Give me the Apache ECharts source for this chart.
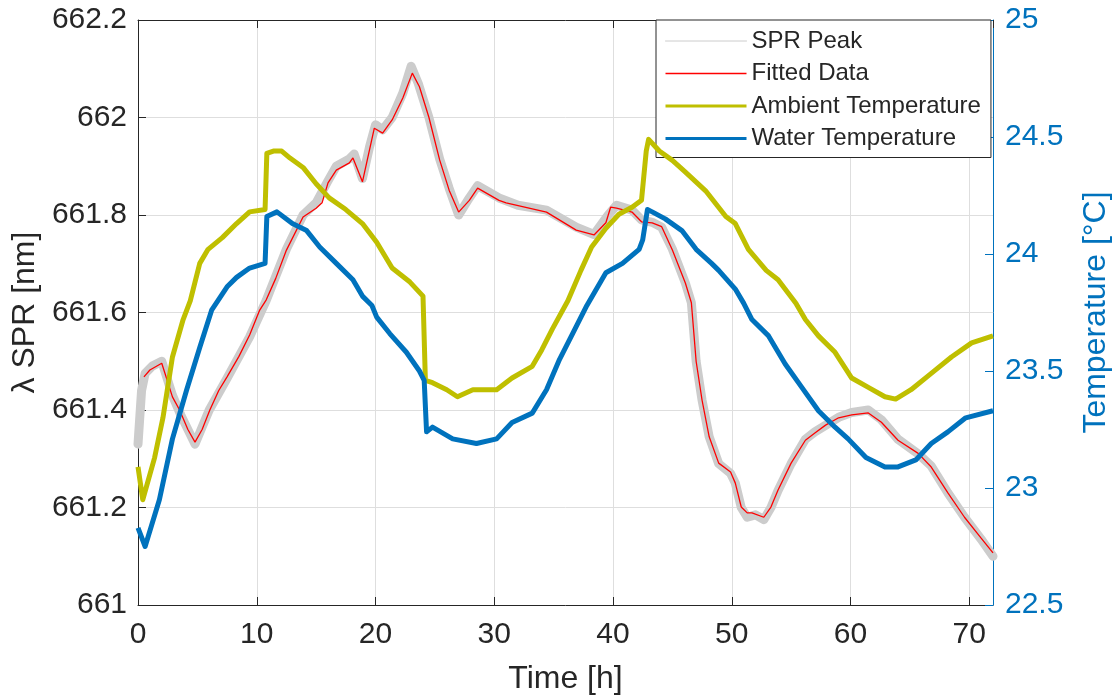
<!DOCTYPE html>
<html>
<head>
<meta charset="utf-8">
<script src="https://cdn.jsdelivr.net/npm/echarts@6/dist/echarts.min.js"></script>
<style>
  html, body { margin: 0; padding: 0; background: #ffffff; }
  #chart { width: 1120px; height: 700px; }
</style>
</head>
<body>
<div id="chart"></div>
<script>
// ---- Data ----
const seriesNames = ['SPR Peak', 'Fitted Data', 'Ambient Temperature', 'Water Temperature'];

// SPR Peak (raw, grey band) [nm]
const sprTime = [0, 0.3, 0.6, 1.2, 2.0, 2.9, 3.6, 4.8, 6.0, 7.5, 9.4, 10.8, 12.5, 13.9, 15.0, 16.0, 16.7, 17.8, 18.2, 18.9, 19.5, 20.0, 20.6, 21.4, 22.3, 23.0, 23.6, 24.5, 25.4, 26.2, 27.0, 27.9, 28.6, 30.4, 32.0, 34.4, 36.9, 38.4, 39.6, 40.3, 41.6, 42.4, 43.3, 44.1, 45.0, 46.1, 46.6, 47.0, 47.5, 48.1, 48.9, 49.9, 50.3, 50.8, 51.3, 52.0, 52.7, 53.3, 53.9, 55.0, 56.2, 57.0, 58.0, 59.0, 60.1, 61.5, 62.6, 64.0, 65.7, 66.8, 68.2, 69.6, 71.0, 72.0];
const sprPeak = [661.33, 661.44, 661.475, 661.49, 661.50, 661.43, 661.39, 661.33, 661.40, 661.465, 661.55, 661.625, 661.73, 661.80, 661.825, 661.87, 661.90, 661.915, 661.925, 661.875, 661.94, 661.985, 661.975, 662.00, 662.05, 662.105, 662.07, 662.00, 661.915, 661.855, 661.80, 661.835, 661.86, 661.835, 661.82, 661.81, 661.775, 661.76, 661.80, 661.82, 661.81, 661.79, 661.785, 661.775, 661.73, 661.66, 661.62, 661.50, 661.42, 661.345, 661.29, 661.27, 661.25, 661.20, 661.18, 661.185, 661.175, 661.20, 661.235, 661.29, 661.34, 661.355, 661.37, 661.385, 661.395, 661.40, 661.38, 661.34, 661.31, 661.285, 661.23, 661.18, 661.135, 661.10];

// Fitted Data [nm]
const fitTime = [0.5, 1.0, 2.0, 2.9, 3.5, 4.2, 4.8, 5.4, 6.05, 6.8, 7.5, 8.5, 9.4, 10.25, 10.8, 11.6, 12.5, 13.9, 15.0, 15.5, 16.0, 16.7, 17.8, 18.1, 18.9, 19.9, 20.6, 21.4, 22.3, 23.1, 23.7, 24.5, 25.4, 26.2, 27.0, 27.9, 28.6, 30.4, 31.0, 34.4, 36.9, 38.4, 39.4, 39.8, 40.3, 41.6, 42.4, 43.3, 44.1, 45.0, 46.1, 46.6, 47.0, 47.5, 48.1, 48.9, 49.9, 50.3, 50.8, 51.3, 51.7, 52.7, 53.3, 53.9, 55.0, 56.2, 57.0, 57.9, 59.0, 60.1, 61.5, 62.6, 64.0, 65.7, 66.8, 68.2, 69.6, 71.0, 72.0];
const fitData = [661.468, 661.482, 661.496, 661.427, 661.40, 661.36, 661.334, 661.36, 661.40, 661.44, 661.468, 661.51, 661.554, 661.605, 661.626, 661.67, 661.728, 661.796, 661.814, 661.825, 661.866, 661.892, 661.907, 661.917, 661.868, 661.978, 661.968, 661.995, 662.04, 662.091, 662.063, 662.00, 661.913, 661.851, 661.806, 661.83, 661.855, 661.83, 661.825, 661.806, 661.769, 661.759, 661.784, 661.816, 661.814, 661.806, 661.786, 661.784, 661.776, 661.728, 661.66, 661.62, 661.50, 661.42, 661.345, 661.291, 661.273, 661.25, 661.201, 661.189, 661.189, 661.18, 661.201, 661.236, 661.291, 661.338, 661.353, 661.369, 661.384, 661.39, 661.394, 661.375, 661.338, 661.311, 661.283, 661.23, 661.18, 661.137, 661.107];

// Ambient Temperature [°C]
const ambTime = [0, 0.4, 1.4, 2.1, 2.9, 3.8, 4.4, 5.2, 5.9, 7.1, 8.3, 9.4, 10.7, 10.85, 11.4, 12.1, 12.8, 13.9, 15.0, 16.1, 17.5, 18.9, 20.1, 21.4, 22.9, 24.0, 24.2, 24.8, 26.0, 26.9, 28.2, 30.2, 31.5, 33.2, 34.0, 34.9, 36.2, 37.3, 38.2, 39.4, 40.5, 41.6, 42.4, 42.8, 43.0, 43.9, 45.0, 46.1, 47.8, 49.5, 50.3, 51.4, 52.9, 53.9, 55.4, 56.2, 57.3, 58.7, 60.1, 61.5, 62.9, 63.8, 65.1, 66.8, 68.5, 70.2, 72.0];
const ambTemp = [23.09, 22.95, 23.13, 23.30, 23.56, 23.72, 23.80, 23.96, 24.02, 24.07, 24.13, 24.18, 24.19, 24.43, 24.44, 24.44, 24.41, 24.37, 24.30, 24.24, 24.19, 24.13, 24.05, 23.94, 23.88, 23.82, 23.46, 23.45, 23.42, 23.39, 23.42, 23.42, 23.47, 23.52, 23.59, 23.68, 23.80, 23.93, 24.03, 24.11, 24.17, 24.20, 24.23, 24.44, 24.49, 24.44, 24.40, 24.35, 24.27, 24.16, 24.13, 24.02, 23.93, 23.89, 23.79, 23.72, 23.65, 23.58, 23.47, 23.43, 23.39, 23.38, 23.42, 23.49, 23.56, 23.62, 23.65];

// Water Temperature [°C]
const watTime = [0, 0.6, 1.8, 2.9, 4.1, 5.2, 6.2, 7.5, 8.3, 9.4, 10.7, 10.85, 11.7, 13.0, 14.2, 15.3, 16.7, 18.1, 18.9, 19.7, 20.1, 21.2, 22.6, 23.7, 24.1, 24.3, 24.8, 26.5, 28.5, 30.2, 31.5, 33.2, 34.4, 35.5, 36.6, 37.8, 39.4, 40.8, 42.2, 42.5, 42.9, 43.3, 44.4, 45.8, 47.0, 48.3, 48.9, 50.3, 51.0, 51.7, 53.1, 54.5, 55.9, 57.3, 58.7, 59.8, 61.3, 62.9, 64.0, 65.5, 66.8, 68.2, 69.7, 72.0];
const watTemp = [22.83, 22.75, 22.95, 23.21, 23.42, 23.60, 23.76, 23.86, 23.90, 23.94, 23.96, 24.16, 24.18, 24.13, 24.10, 24.03, 23.96, 23.89, 23.82, 23.78, 23.73, 23.66, 23.58, 23.50, 23.46, 23.24, 23.26, 23.21, 23.19, 23.21, 23.28, 23.32, 23.42, 23.55, 23.66, 23.78, 23.92, 23.96, 24.02, 24.06, 24.19, 24.18, 24.15, 24.10, 24.02, 23.96, 23.93, 23.85, 23.79, 23.72, 23.65, 23.53, 23.43, 23.33, 23.26, 23.21, 23.13, 23.09, 23.09, 23.12, 23.19, 23.24, 23.30, 23.33];

// Axis labels
const xName = 'Time [h]';
const yLeftName = 'λ SPR [nm]';
const yRightName = 'Temperature [°C]';

// ---- Build ----
const zip = (a, b) => a.map((t, i) => [t, b[i]]);
const FONT = "'Liberation Sans', Arial, Helvetica, sans-serif";
const DARK = '#262626';
const BLUE = '#0072BD';
const TICK_FS = 30;
const NAME_FS = 32;

const chart = echarts.init(document.getElementById('chart'), null, { renderer: 'canvas' });

const hiddenSymbol = { color: 'rgba(0,0,0,0)', borderWidth: 0, opacity: 0 };

const option = {
  animation: false,
  backgroundColor: '#ffffff',
  textStyle: { fontFamily: FONT },
  grid: { left: 138, right: 125, top: 20, bottom: 95 },
  legend: {
    orient: 'vertical',
    left: 656, top: 20,
    itemWidth: 81, itemHeight: 24, itemGap: 8.5, itemTextGap: 7,
    padding: [9, 10, 7, 8],
    backgroundColor: '#ffffff',
    borderColor: DARK, borderWidth: 1, borderRadius: 0,
    itemStyle: hiddenSymbol,
    textStyle: { fontFamily: FONT, fontSize: 24, color: DARK, lineHeight: 24 },
    data: [
      { name: seriesNames[0], itemStyle: hiddenSymbol, lineStyle: { width: 1 } },
      { name: seriesNames[1], itemStyle: hiddenSymbol, lineStyle: { width: 1.5 } },
      { name: seriesNames[2], itemStyle: hiddenSymbol, lineStyle: { width: 3 } },
      { name: seriesNames[3], itemStyle: hiddenSymbol, lineStyle: { width: 3 } }
    ]
  },
  xAxis: [
    {
      type: 'value', min: 0, max: 72, interval: 10, position: 'bottom',
      name: xName, nameLocation: 'middle', nameGap: 58,
      nameTextStyle: { fontFamily: FONT, fontSize: NAME_FS, color: DARK },
      axisLine: { show: true, onZero: false, lineStyle: { color: DARK, width: 1 } },
      axisTick: { show: true, inside: true, length: 8, lineStyle: { color: DARK } },
      axisLabel: { fontFamily: FONT, fontSize: TICK_FS, color: DARK, margin: 15 },
      splitLine: { show: true, lineStyle: { color: '#dedede', width: 1 } }
    },
    {
      type: 'value', min: 0, max: 72, interval: 10, position: 'top',
      axisLine: { show: true, onZero: false, lineStyle: { color: DARK, width: 1 } },
      axisTick: { show: true, inside: true, length: 8, lineStyle: { color: DARK } },
      axisLabel: { show: false },
      splitLine: { show: false }
    }
  ],
  yAxis: [
    {
      type: 'value', min: 661, max: 662.2, interval: 0.2, position: 'left',
      name: yLeftName, nameLocation: 'middle', nameGap: 95,
      nameTextStyle: { fontFamily: FONT, fontSize: NAME_FS, color: DARK },
      axisLine: { show: true, onZero: false, lineStyle: { color: DARK, width: 1 } },
      axisTick: { show: true, inside: true, length: 8, lineStyle: { color: DARK } },
      axisLabel: { fontFamily: FONT, fontSize: TICK_FS, color: DARK, margin: 11,
        formatter: v => String(+v.toFixed(1)) },
      splitLine: { show: true, lineStyle: { color: '#dedede', width: 1 } }
    },
    {
      type: 'value', min: 22.5, max: 25, interval: 0.5, position: 'right',
      name: yRightName, nameLocation: 'middle', nameGap: 87,
      nameTextStyle: { fontFamily: FONT, fontSize: NAME_FS, color: BLUE },
      axisLine: { show: true, onZero: false, lineStyle: { color: BLUE, width: 1 } },
      axisTick: { show: true, inside: true, length: 8, lineStyle: { color: BLUE } },
      axisLabel: { fontFamily: FONT, fontSize: TICK_FS, color: BLUE, margin: 12,
        formatter: v => String(+v.toFixed(1)) },
      splitLine: { show: false }
    }
  ],
  series: [
    {
      name: seriesNames[0], type: 'line', xAxisIndex: 0, yAxisIndex: 0,
      data: zip(sprTime, sprPeak), symbol: 'none',
      color: '#c8c8c8',
      lineStyle: { color: '#cccccc', width: 9, join: 'round', cap: 'round' },
      z: 2
    },
    {
      name: seriesNames[1], type: 'line', xAxisIndex: 0, yAxisIndex: 0,
      data: zip(fitTime, fitData), symbol: 'none',
      color: '#ff0000',
      lineStyle: { color: '#ff0000', width: 1.3 },
      z: 3
    },
    {
      name: seriesNames[2], type: 'line', xAxisIndex: 0, yAxisIndex: 1,
      data: zip(ambTime, ambTemp), symbol: 'none',
      color: '#bfbf00',
      lineStyle: { color: '#bfbf00', width: 5, join: 'round' },
      z: 4
    },
    {
      name: seriesNames[3], type: 'line', xAxisIndex: 0, yAxisIndex: 1,
      data: zip(watTime, watTemp), symbol: 'none',
      color: BLUE,
      lineStyle: { color: BLUE, width: 5, join: 'round' },
      z: 5
    }
  ]
};
chart.setOption(option);
</script>
</body>
</html>
